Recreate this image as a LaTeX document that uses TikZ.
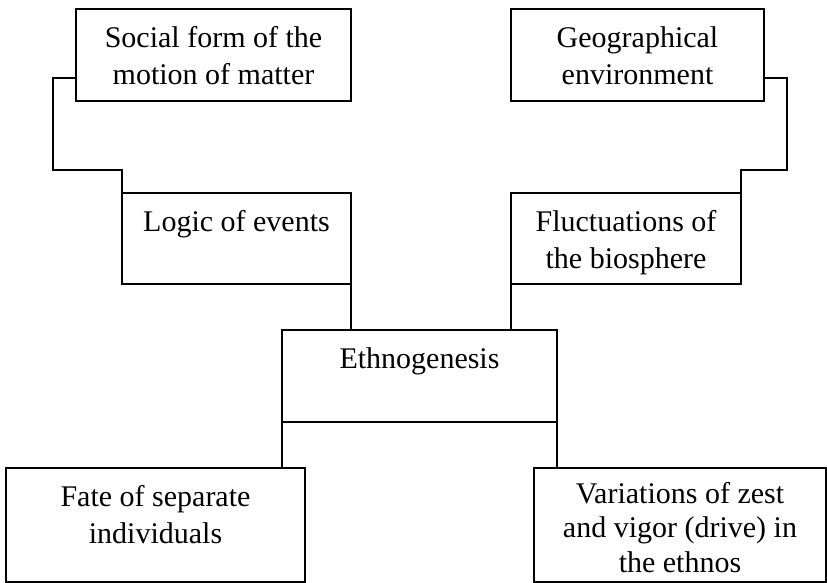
\documentclass[tikz,border=0pt]{standalone}
\usepackage{fontspec}
\setmainfont{Liberation Serif}
\begin{document}
\begin{tikzpicture}[x=1pt, y=-1pt, line join=miter,
	font=\fontsize{30}{37.5}\selectfont,
	box/.style={draw, line width=1.8pt, anchor=north west, inner sep=0pt, outer sep=0pt},
	lbl/.style={anchor=north, yshift=-17pt, inner sep=0pt, align=center},
	link/.style={line width=1.8pt}]
	\useasboundingbox (0,0) rectangle (827,583);
	% upper boxes
	\node[box, minimum width=275pt, minimum height=92pt, label={[lbl]north:Social form of the\\motion of matter}] (social) at (76,9) {};
	\node[box, minimum width=229pt, minimum height=91pt, label={[lbl]north:Logic of events}] (logic) at (122,193) {};
	\node[box, minimum width=253pt, minimum height=92pt, label={[lbl]north:Geographical\\environment}] (geo) at (511,9) {};
	\node[box, minimum width=230pt, minimum height=91pt, label={[lbl]north:Fluctuations of\\the biosphere}] (fluct) at (511,193) {};
	% centre and lower boxes
	\node[box, minimum width=275pt, minimum height=92pt, label={[lbl]north:Ethnogenesis}] (ethno) at (282,330) {};
	\node[box, minimum width=299pt, minimum height=114pt, label={[lbl]north:Fate of separate\\individuals}] (fate) at (6,468) {};
	\node[box, minimum width=292pt, minimum height=114pt, label={[lbl, yshift=3pt, font=\fontsize{30}{34.5}\selectfont]north:Variations of zest\\and vigor (drive) in\\the ethnos}] (vari) at (534,468) {};
	% connectors
	\draw[link] ([yshift=23pt]social.south west) -- ++(-23,0) |- ([yshift=23pt]logic.north west) -- (logic.north west);
	\draw[link] ([yshift=23pt]geo.south east) -- ++(23,0) |- ([yshift=23pt]fluct.north east) -- (fluct.north east);
	\draw[link] (logic.south east) -- (logic.south east |- ethno.north);
	\draw[link] (fluct.south west) -- (fluct.south west |- ethno.north);
	\draw[link] (ethno.south west) -- (ethno.south west |- fate.north);
	\draw[link] (ethno.south east) -- (ethno.south east |- vari.north);
\end{tikzpicture}
\end{document}
